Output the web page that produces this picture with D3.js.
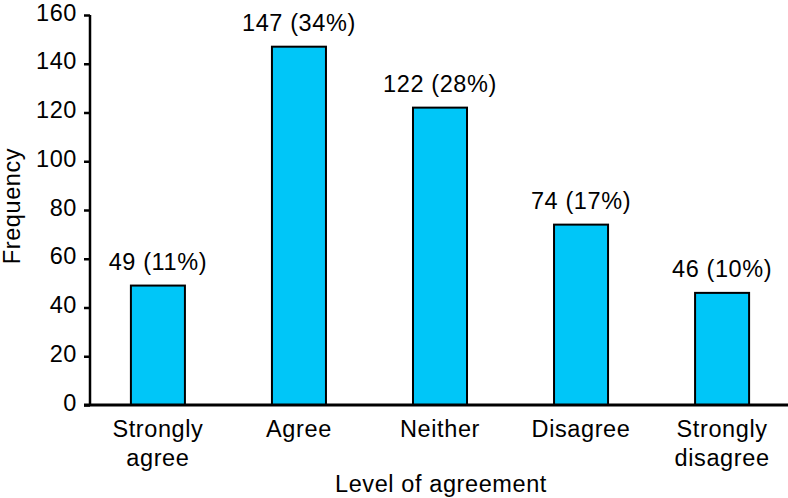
<!DOCTYPE html>
<html>
<head>
<meta charset="utf-8">
<script src="https://cdn.jsdelivr.net/npm/d3@7"></script>
<style>
  body { margin: 0; background: #fff; }
  text { font-family: "Liberation Sans", Arial, sans-serif; fill: #000; font-size: 23.5px; letter-spacing: 0.6px; }
</style>
</head>
<body>
<div class="canva"></div>
<script>
// data
const categories = ['Strongly agree', 'Agree', 'Neither', 'Disagree', 'Strongly disagree'];
const tickLines = [['Strongly', 'agree'], ['Agree'], ['Neither'], ['Disagree'], ['Strongly', 'disagree']];
const counts = [49, 147, 122, 74, 46];
const pct = ['11%', '34%', '28%', '17%', '10%'];
const yTicks = [0, 20, 40, 60, 80, 100, 120, 140, 160];

const width = 788, height = 498;
const padLeft = 90, padTop = 15, baseY = 405;

const svg = d3.select('.canva').append('svg')
    .attr('width', width)
    .attr('height', height);

const x = d3.scaleBand()
    .domain(categories)
    .range([padLeft, 790])
    .paddingInner(0.617)
    .paddingOuter(0.29);

const y = d3.scaleLinear()
    .domain([0, 160])
    .range([baseY, padTop]);

// bars
svg.selectAll('rect.bar')
    .data(counts)
    .enter()
    .append('rect')
    .attr('class', 'bar')
    .attr('x', (d, i) => x(categories[i]))
    .attr('y', d => y(d))
    .attr('width', x.bandwidth())
    .attr('height', d => y(0) - y(d))
    .attr('fill', '#00C6F8')
    .attr('stroke', '#000')
    .attr('stroke-width', 2);

// value labels
svg.selectAll('text.val')
    .data(counts)
    .enter()
    .append('text')
    .attr('class', 'val')
    .attr('x', (d, i) => x(categories[i]) + x.bandwidth() / 2)
    .attr('y', d => y(d) - 16)
    .attr('text-anchor', 'middle')
    .text((d, i) => d + ' (' + pct[i] + ')');

// y axis
const yAxis = svg.append('g')
    .attr('transform', 'translate(' + padLeft + ',0)')
    .call(d3.axisLeft(y).tickValues(yTicks).tickSize(6).tickPadding(7));
yAxis.attr('font-size', null).attr('font-family', null);
yAxis.select('.domain').attr('stroke-width', 2.5).attr('d', 'M0,' + padTop + 'V' + (baseY + 1));
yAxis.selectAll('.tick line').attr('stroke-width', 2.5);
yAxis.selectAll('.tick text').attr('dy', '0.22em');

// x axis baseline
svg.append('line')
    .attr('x1', padLeft - 6).attr('x2', width)
    .attr('y1', baseY).attr('y2', baseY)
    .attr('stroke', '#000').attr('stroke-width', 3);

// category labels
const xl = svg.selectAll('text.cat')
    .data(tickLines)
    .enter()
    .append('text')
    .attr('class', 'cat')
    .attr('text-anchor', 'middle')
    .attr('x', (d, i) => x(categories[i]) + x.bandwidth() / 2)
    .attr('y', 437);
xl.selectAll('tspan')
    .data(d => d)
    .enter()
    .append('tspan')
    .attr('x', function () { return d3.select(this.parentNode).attr('x'); })
    .attr('dy', (d, i) => i === 0 ? 0 : 29)
    .text(d => d);

// axis titles
svg.append('text')
    .attr('x', 441).attr('y', 492)
    .attr('text-anchor', 'middle')
    .text('Level of agreement');

svg.append('text')
    .attr('transform', 'translate(20,206) rotate(-90)')
    .attr('text-anchor', 'middle')
    .text('Frequency');
</script>
</body>
</html>
